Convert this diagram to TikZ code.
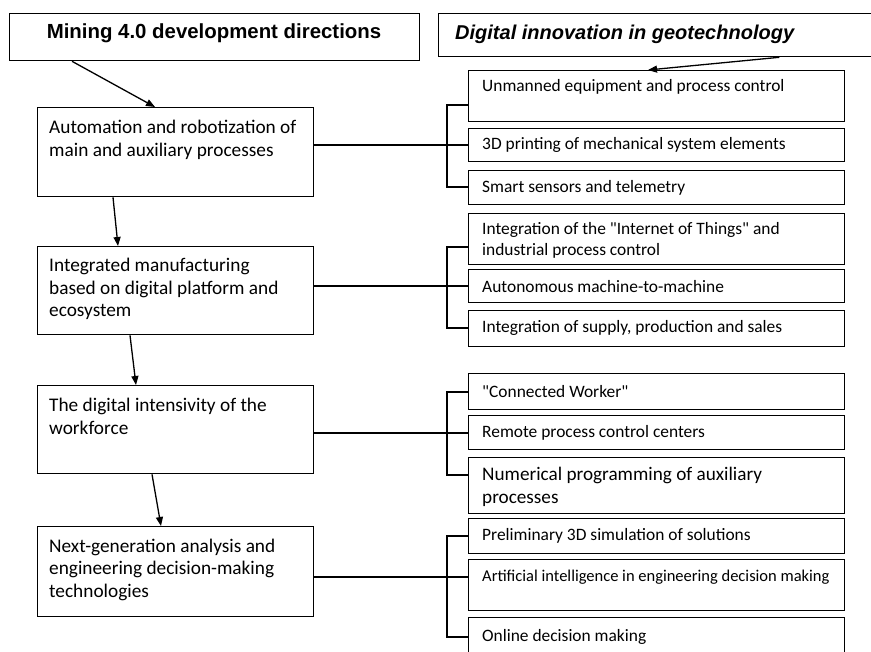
\documentclass[tikz,border=0pt]{standalone}
\usepackage{fontspec}
\setmainfont{Carlito}[Ligatures=TeXOff]
\newfontfamily\hfont{Liberation Sans}
\usetikzlibrary{arrows.meta}
\begin{document}
\begin{tikzpicture}[x=1pt,y=-1pt,
  bx/.style={draw, line width=1.3pt, inner sep=0pt, anchor=north west},
  lt/.style={anchor=west, align=left, inner sep=0pt, font=\fontsize{19.3}{22.5}\selectfont},
  rt/.style={anchor=west, align=left, inner sep=0pt, font=\fontsize{17.4}{21}\selectfont},
  arr/.style={line width=1.3pt, -{Triangle[length=9pt,width=7pt]}},
  ln/.style={line width=1.1pt}]
\useasboundingbox (0,0) rectangle (871,652);
\clip (0,0) rectangle (871,652);
\fill[white] (0,0) rectangle (871,652);
% headers
\node[bx, minimum width=410pt, minimum height=47pt] (hl) at (9,13) {};
\node[bx, minimum width=450pt, minimum height=43pt] (hr) at (438,13) {};
\node[inner sep=0pt, font=\hfont\bfseries\fontsize{20.4}{24}\selectfont] (hlt) at (214,33) {Mining 4.0 development directions};
\node[anchor=west, inner sep=0pt, font=\hfont\bfseries\itshape\fontsize{20}{24}\selectfont] (hrt) at (455,34) {Digital innovation in geotechnology};
% left boxes
\node[bx, minimum width=276pt, minimum height=89pt] (a1) at (37,107) {};
\node[bx, minimum width=276pt, minimum height=88pt] (a2) at (37,246) {};
\node[bx, minimum width=276pt, minimum height=88pt] (a3) at (37,385) {};
\node[bx, minimum width=276pt, minimum height=90pt] (a4) at (37,526) {};
\node[lt] (a1t) at (49,140) {Automation and robotization of\\main and auxiliary processes};
\node[lt] (a2t) at (49,289) {Integrated manufacturing\\based on digital platform and\\ecosystem};
\node[lt] (a3t) at (49,416.5) {The digital intensivity of the\\workforce};
\node[lt] (a4t) at (49,569.5) {Next-generation analysis and\\engineering decision-making\\technologies};
% right boxes
\foreach \n/\y/\h in {r1/70/51, r2/128/33, r3/170/34, r4/213/51, r5/269/33, r6/310/36,
  r7/373/36, r8/415/34, r9/457/56, r10/518/35, r11/559/51, r12/617/50}
  \node[bx, minimum width=376pt, minimum height=\h pt] (\n) at (468,\y) {};
\node[rt] (r1t) at (482,87) {Unmanned equipment and process control};
\node[rt] (r2t) at (482,145) {3D printing of mechanical system elements};
\node[rt] (r3t) at (482,188) {Smart sensors and telemetry};
\node[rt] (r4t) at (482,240.5) {Integration of the "Internet of Things" and\\industrial process control};
\node[rt] (r5t) at (482,287) {Autonomous machine-to-machine};
\node[rt] (r6t) at (482,328) {Integration of supply, production and sales};
\node[rt] (r7t) at (482,392) {"Connected Worker"};
\node[rt] (r8t) at (482,433) {Remote process control centers};
\node[lt, font=\fontsize{19.2}{23}\selectfont] (r9t) at (482,486.5) {Numerical programming of auxiliary\\processes};
\node[rt] (r10t) at (482,536) {Preliminary 3D simulation of solutions};
\node[rt, font=\fontsize{16.5}{20}\selectfont] (r11t) at (482,577) {Artificial intelligence in engineering decision making};
\node[rt] (r12t) at (482,637) {Online decision making};
% arrows
\draw[arr] ([xshift=63pt]hl.south west) -- ([xshift=118pt]a1.north west);
\draw[arr] ([xshift=-110pt]hr.south east) -- ([xshift=180pt]r1.north west);
\draw[arr] ([xshift=76pt]a1.south west) -- ([xshift=81pt]a2.north west);
\draw[arr] ([xshift=93pt]a2.south west) -- ([xshift=99pt]a3.north west);
\draw[arr] ([xshift=115pt]a3.south west) -- ([xshift=124pt]a4.north west);
% brackets
\draw[ln] (a1.east |- 0,145) -- (r2.west |- 0,145);
\draw[ln] (r1.west |- 0,105) -- (447,105) -- (447,187) -- (r3.west |- 0,187);
\draw[ln] (a2.east |- 0,286) -- (r5.west |- 0,286);
\draw[ln] (r4.west |- 0,247) -- (447,247) -- (447,328) -- (r6.west |- 0,328);
\draw[ln] (a3.east |- 0,433) -- (r8.west |- 0,433);
\draw[ln] (r7.west |- 0,392) -- (447,392) -- (447,475) -- (r9.west |- 0,475);
\draw[ln] (a4.east |- 0,577) -- (r11.west |- 0,577);
\draw[ln] (r10.west |- 0,536) -- (447,536) -- (447,637) -- (r12.west |- 0,637);
\end{tikzpicture}
\end{document}
